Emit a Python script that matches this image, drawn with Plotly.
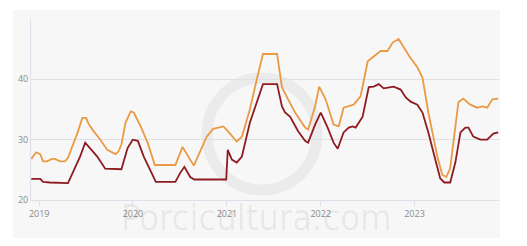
import plotly.graph_objects as go

orange_dates = ["2018-12-01","2018-12-20","2019-01-05","2019-01-16","2019-01-31","2019-02-20","2019-03-03",
    "2019-03-23","2019-04-11","2019-04-23","2019-05-29","2019-06-18","2019-07-03","2019-07-11","2019-07-30",
    "2019-08-27","2019-09-23","2019-10-13","2019-10-25","2019-11-05","2019-11-17","2019-12-03","2019-12-23",
    "2020-01-04","2020-01-31","2020-02-27","2020-03-22","2020-03-26","2020-06-14","2020-07-12","2020-08-25",
    "2020-10-14","2020-11-08","2020-12-18","2021-01-04","2021-02-08","2021-02-28","2021-03-31","2021-04-27",
    "2021-05-21","2021-07-15","2021-08-03","2021-08-23","2021-09-23","2021-11-01","2021-11-13","2021-12-10",
    "2021-12-26","2022-01-20","2022-02-20","2022-03-12","2022-03-31","2022-05-09","2022-06-05","2022-07-03",
    "2022-07-26","2022-08-22","2022-09-18","2022-10-08","2022-10-31","2022-11-20","2022-12-17","2023-01-12",
    "2023-02-01","2023-02-24","2023-03-31","2023-04-19","2023-05-05","2023-05-20","2023-06-09","2023-06-21",
    "2023-07-10","2023-08-06","2023-09-02","2023-09-22","2023-10-11","2023-10-31","2023-11-23"]
orange_vals = [26.8,27.9,27.6,26.4,26.4,26.8,26.8,
    26.4,26.4,27.0,31.0,33.6,33.6,32.7,31.5,
    30.0,28.3,27.9,27.6,28.0,29.2,32.8,34.7,
    34.5,32.2,29.5,26.4,25.8,25.8,28.8,25.7,
    30.5,31.8,32.2,31.4,29.7,30.5,35.0,40.0,
    44.2,44.2,38.7,37.0,34.5,32.0,31.7,35.5,
    38.8,36.7,32.5,32.2,35.3,35.8,37.2,43.0,
    43.8,44.7,44.7,46.1,46.7,45.3,43.5,42.0,
    40.3,34.5,27.2,24.2,23.8,25.3,32.2,36.2,
    36.8,35.8,35.3,35.5,35.3,36.7,36.8]

red_dates = ["2018-12-01","2019-01-05","2019-01-16","2019-02-12","2019-04-23","2019-06-09","2019-06-29",
    "2019-08-15","2019-09-15","2019-11-17","2019-12-11","2019-12-31","2020-01-20","2020-02-12","2020-03-11",
    "2020-03-30","2020-06-14","2020-07-03","2020-07-19","2020-08-11","2020-08-27","2020-12-29","2021-01-04",
    "2021-01-20","2021-02-08","2021-02-28","2021-03-31","2021-05-01","2021-05-21","2021-07-15","2021-08-03",
    "2021-08-15","2021-09-04","2021-10-05","2021-11-01","2021-11-13","2021-12-10","2022-01-01","2022-01-28",
    "2022-02-20","2022-03-08","2022-03-31","2022-04-20","2022-05-05","2022-05-17","2022-06-13","2022-07-07",
    "2022-07-26","2022-08-15","2022-09-03","2022-10-12","2022-11-08","2022-11-28","2022-12-17","2023-01-12",
    "2023-02-01","2023-02-24","2023-03-23","2023-04-11","2023-04-27","2023-05-20","2023-06-09","2023-06-29",
    "2023-07-18","2023-07-30","2023-08-18","2023-09-14","2023-10-11","2023-11-04","2023-11-23"]
red_vals = [23.5,23.5,23.0,22.9,22.8,27.2,29.5,
    27.2,25.2,25.1,28.6,30.0,29.8,27.2,24.7,
    23.0,23.0,24.5,25.5,23.8,23.4,23.4,28.3,
    26.7,26.2,27.2,32.8,36.7,39.2,39.2,35.5,
    34.5,33.8,31.4,29.8,29.5,32.5,34.5,32.0,
    29.5,28.5,31.2,32.0,32.2,32.0,33.8,38.7,
    38.8,39.2,38.5,38.8,38.3,37.0,36.3,35.8,
    34.5,31.2,26.7,23.6,22.9,22.9,26.2,31.2,
    32.0,32.0,30.5,30.0,30.0,31.0,31.2]

y_ticks = [20, 30, 40, 50]
y_text = ["20", "30", "40", ""]
x_ticks = ["2019-01-01", "2020-01-01", "2021-01-01", "2022-01-01", "2023-01-01"]
x_text = ["2019", "2020", "2021", "2022", "2023"]

fig = go.Figure()
fig.add_trace(go.Scatter(x=orange_dates, y=orange_vals, mode="lines",
                         line=dict(color="#E99A45", width=1.8), showlegend=False))
fig.add_trace(go.Scatter(x=red_dates, y=red_vals, mode="lines",
                         line=dict(color="#8E1B22", width=1.8), showlegend=False))

# grey panel
fig.add_shape(type="rect", xref="paper", yref="paper",
              x0=-18/468, x1=1.002, y0=-38/181, y1=1 + 9/181,
              fillcolor="#f7f7f7", line=dict(width=0), layer="below")
# watermark circle
fig.add_shape(type="circle", xref="paper", yref="paper",
              x0=(207-31)/468, x1=(317-31)/468, y0=(200-190)/181, y1=(200-78)/181,
              line=dict(color="#ebebeb", width=11), layer="below")
fig.add_annotation(text="Porcicultura.com", xref="paper", yref="paper",
                   x=(256-31)/468, y=(200-217)/181, xanchor="center", yanchor="middle",
                   showarrow=False,
                   font=dict(family="Liberation Sans Narrow, DejaVu Sans Condensed, Roboto",
                             size=36, color="rgba(0,0,0,0.06)"))

fig.update_layout(
    width=527, height=246,
    margin=dict(l=31, r=28, t=19, b=46),
    paper_bgcolor="white", plot_bgcolor="rgba(0,0,0,0)",
    font=dict(family="Open Sans", size=9, color="#8a8a8a"),
)
fig.update_xaxes(range=["2018-11-30", "2023-11-26"], tickvals=x_ticks, ticktext=x_text,
                 showgrid=False, showline=True, linecolor="#dde0e8", linewidth=1,
                 ticks="outside", ticklen=5, tickcolor="#dde0e8", zeroline=False)
fig.update_yaxes(range=[20, 50], tickvals=y_ticks, ticktext=y_text,
                 showgrid=True, gridcolor="#dde0e8", gridwidth=1,
                 showline=True, linecolor="#dde0e8", zeroline=False, ticks="")

fig.write_html("out.html")
